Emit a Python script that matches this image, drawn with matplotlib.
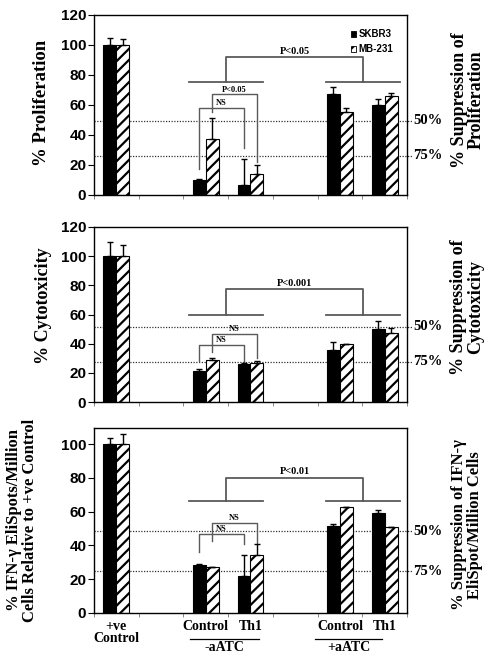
import numpy as np
import matplotlib
matplotlib.use("Agg")
import matplotlib.pyplot as plt
from matplotlib.patches import Patch

plt.rcParams["hatch.linewidth"] = 1.6

nan = np.nan

# Categories along the x axis (blank slots are gaps between groups)
categories = ["+ve\nControl", "", "Control", "Th1", "", "Control", "Th1"]
groups = ["-aATC", "+aATC"]
series = ["SKBR3", "MB-231"]

# % Proliferation
prolif_skbr3 = [100, nan, 10, 6.7, nan, 67, 60]
prolif_skbr3_err = [4.5, 0, 0.5, 17, 0, 5, 4]
prolif_mb231 = [100, nan, 37, 14, nan, 55, 66]
prolif_mb231_err = [4, 0, 14, 6, 0, 3, 2]
prolif_refs = [49.5, 26]

# % Cytotoxicity
cyto_skbr3 = [100, nan, 21, 26, nan, 36, 50]
cyto_skbr3_err = [10, 0, 1.5, 1, 0, 5, 5.5]
cyto_mb231 = [100, nan, 28.8, 27, nan, 39.7, 47]
cyto_mb231_err = [8, 0, 1.5, 1.2, 0, 0.4, 4]
cyto_refs = [51.6, 27.6]

# % IFN-gamma EliSpots
ifn_skbr3 = [100, nan, 28.5, 21.8, nan, 51.5, 59.4]
ifn_skbr3_err = [3.5, 0, 0.7, 12.5, 0, 1, 1.4]
ifn_mb231 = [100, nan, 27.3, 34.6, nan, 62.7, 50.9]
ifn_mb231_err = [6, 0, 0, 6.2, 0, 0, 0]
ifn_refs = [48.5, 24.7]

SERIF = "Liberation Serif"
SANS = "Liberation Sans"
W = 0.29          # bar width (category units)
GREY = "#5a5a5a"

fig = plt.figure(figsize=(4.99, 6.65), dpi=100)


def px_axes(left, top, right, bottom):
    return fig.add_axes([left / 499, 1 - bottom / 665,
                         (right - left) / 499, (bottom - top) / 665])


def draw_panel(ax, skbr3, skbr3_err, mb231, mb231_err, refs, ymax, yticks):
    x = np.arange(len(categories))
    s = np.array(skbr3, float)
    m = np.array(mb231, float)
    se = np.array(skbr3_err, float)
    me = np.array(mb231_err, float)
    k = ~np.isnan(s)
    ax.bar(x[k] - W / 2, s[k], W, color="black", edgecolor="black", lw=0.8, zorder=2)
    ax.bar(x[k] + W / 2, m[k], W, color="white", edgecolor="black", lw=0.8,
           hatch="///", zorder=2)
    ax.errorbar(x[k] - W / 2, s[k], yerr=[np.zeros(k.sum()), se[k]], fmt="none",
                ecolor="black", elinewidth=1, capsize=2.5, capthick=1, zorder=3)
    ax.errorbar(x[k] + W / 2, m[k], yerr=[np.zeros(k.sum()), me[k]], fmt="none",
                ecolor="black", elinewidth=1, capsize=2.5, capthick=1, zorder=3)
    for r in refs:
        ax.axhline(r, xmin=0, xmax=1.016, color="#333333", lw=0.9,
                   ls=(0, (1, 1.2)), zorder=1, clip_on=False)
    ax.set_xlim(-0.5, len(categories) - 0.5)
    ax.set_ylim(0, ymax)
    ax.set_yticks(yticks)
    ax.set_yticklabels([str(t) for t in yticks], fontfamily=SANS,
                       fontweight="bold", fontsize=11)
    ax.tick_params(axis="y", direction="out", length=4, width=0.8, pad=1.5)
    ax.set_xticks(x)
    ax.set_xticklabels([])
    ax.set_xticks(np.arange(-0.5, len(categories)), minor=True)
    ax.tick_params(axis="x", which="major", length=0)
    ax.tick_params(axis="x", which="minor", direction="out", length=3,
                   width=0.6, color="#777777")
    for sp in ax.spines.values():
        sp.set_linewidth(1)


def big_bracket(ax, base, top, text, c1=2.45, c2=5.52, hw=0.83):
    kw = dict(color=GREY, lw=1.3, zorder=1)
    ax.plot([c1 - hw, c1 + hw], [base, base], **kw)
    ax.plot([c2 - hw, c2 + hw], [base, base], **kw)
    ax.plot([c1, c1, c2, c2], [base, top, top, base], **kw)
    ax.text((c1 + c2) / 2, top + 1.0, text, ha="center", va="bottom",
            fontsize=7.5, fontfamily=SERIF, fontweight="bold")


def small_bracket(ax, x0, x1, top, b0, b1, text):
    ax.plot([x0, x0, x1, x1], [b0, top, top, b1], color=GREY, lw=1.0, zorder=1)
    ax.text((x0 + x1) / 2, top + 0.6, text, ha="center", va="bottom",
            fontsize=6, fontfamily=SERIF, fontweight="bold")


ax1 = px_axes(94, 15, 407, 195)
ax2 = px_axes(94, 227, 407, 402)
ax3 = px_axes(94, 428, 407, 613)

draw_panel(ax1, prolif_skbr3, prolif_skbr3_err, prolif_mb231, prolif_mb231_err,
           prolif_refs, 120, range(0, 121, 20))
draw_panel(ax2, cyto_skbr3, cyto_skbr3_err, cyto_mb231, cyto_mb231_err,
           cyto_refs, 120, range(0, 121, 20))
draw_panel(ax3, ifn_skbr3, ifn_skbr3_err, ifn_mb231, ifn_mb231_err,
           ifn_refs, 109.5, range(0, 101, 20))

# significance brackets
big_bracket(ax1, 75, 92, "P<0.05")
small_bracket(ax1, 2 - W / 2, 3 - W / 2, 58, 17, 31, "NS")
small_bracket(ax1, 2 + W / 2, 3 + W / 2, 67, 55, 22, "P<0.05")

big_bracket(ax2, 60, 77.4, "P<0.001")
small_bracket(ax2, 2 - W / 2, 3 - W / 2, 39, 28, 27, "NS")
small_bracket(ax2, 2 + W / 2, 3 + W / 2, 46.5, 34.5, 30, "NS")

big_bracket(ax3, 66, 80.2, "P<0.01")
small_bracket(ax3, 2 - W / 2, 3 - W / 2, 46.5, 36, 40.6, "NS")
small_bracket(ax3, 2 + W / 2, 3 + W / 2, 53.5, 42.5, 41, "NS")

# legend
handles = [Patch(facecolor="black", edgecolor="black", lw=0.6),
           Patch(facecolor="white", edgecolor="black", hatch="///", lw=0.6)]
leg = ax1.legend(handles, series, loc="upper right", bbox_to_anchor=(0.985, 0.97),
                 frameon=False, handlelength=0.55, handleheight=0.55,
                 handletextpad=0.3, labelspacing=0.55,
                 prop=dict(family=SANS, weight="bold", size=7))

# bottom category labels
ax3.set_xticklabels(categories, fontfamily=SERIF, fontweight="bold", fontsize=10,
                    linespacing=0.95)
ax3.tick_params(axis="x", which="major", pad=5)
xt = ax3.get_xaxis_transform()
for name, (a, b) in zip(groups, [(1.65, 3.2), (4.45, 5.95)]):
    ax3.plot([a, b], [-0.141, -0.141], color="black", lw=0.9, transform=xt,
             clip_on=False)
    ax3.text((a + b) / 2, -0.15, name, transform=xt, ha="center", va="top",
             fontfamily=SERIF, fontweight="bold", fontsize=10)

# suppression marks on the right
for ax, refs in [(ax1, prolif_refs), (ax2, cyto_refs), (ax3, ifn_refs)]:
    for r, lab in zip(refs, ["50%", "75%"]):
        ax.text(1.02, r, lab, transform=ax.get_yaxis_transform(), ha="left",
                va="center", fontfamily=SERIF, fontweight="bold", fontsize=10.5)

# axis titles
lab = dict(rotation=90, ha="center", va="center", fontfamily=SERIF,
           fontweight="bold", multialignment="center", linespacing=1.0)
fig.text(42 / 499, 1 - 103 / 665, "% Proliferation", fontsize=13.5, **lab)
fig.text(43 / 499, 1 - 306 / 665, "% Cytotoxicity", fontsize=13, **lab)
fig.text(22 / 499, 1 - 520 / 665,
         "% IFN-\u03b3 EliSpots/Million\nCells Relative to +ve Control",
         fontsize=12, **lab)
fig.text(468 / 499, 1 - 100 / 665, "% Suppression of\nProliferation",
         fontsize=13, **lab)
fig.text(467 / 499, 1 - 307 / 665, "% Suppression of\nCytotoxicity",
         fontsize=13, **lab)
fig.text(467 / 499, 1 - 525 / 665,
         "% Suppression of IFN-\u03b3\nEliSpot/Million Cells", fontsize=12, **lab)

fig.savefig("out.png", dpi=100)
